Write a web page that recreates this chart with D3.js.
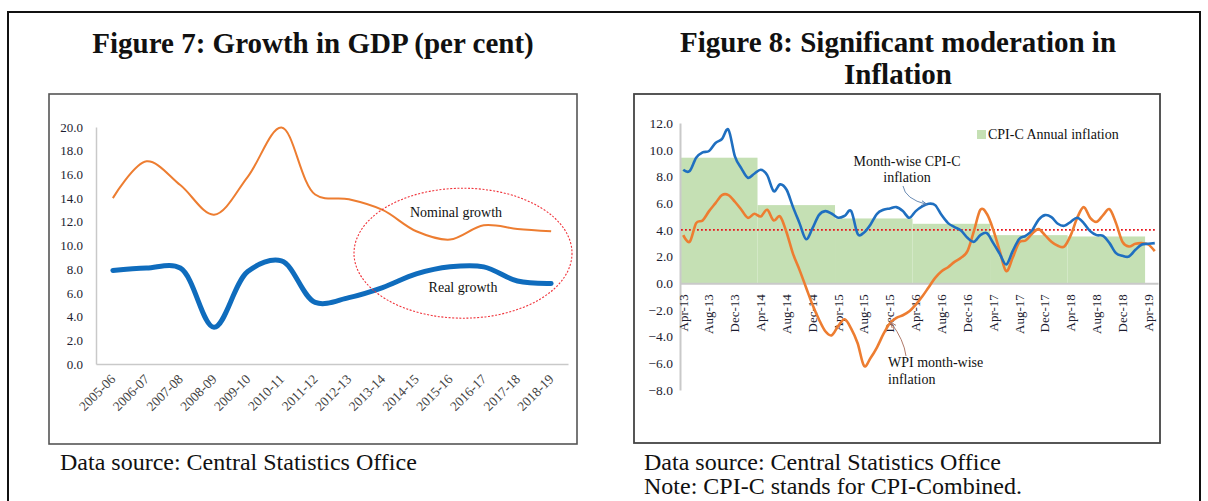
<!DOCTYPE html>
<html>
<head>
<meta charset="utf-8">
<script src="https://cdn.jsdelivr.net/npm/d3@7"></script>
<style>
  html, body { margin: 0; padding: 0; background: #fff; }
  svg { display: block; }
  text { font-family: "Liberation Serif", "Times New Roman", serif; }
</style>
</head>
<body>
<svg id="chart" width="1208" height="501"></svg>
<script>
// ---------- Figure 7 data ----------
const gdpYears = ["2005-06","2006-07","2007-08","2008-09","2009-10","2010-11","2011-12",
  "2012-13","2013-14","2014-15","2015-16","2016-17","2017-18","2018-19"];
const nominalGrowth = [14.0, 17.1, 15.1, 12.6, 15.8, 19.95, 14.3, 13.9, 13.0, 11.2, 10.5, 11.7, 11.4, 11.2];
const realGrowth = [7.9, 8.1, 8.1, 3.1, 7.8, 8.7, 5.2, 5.6, 6.45, 7.6, 8.2, 8.2, 7.0, 6.8];
const gdpTicks = [0, 2, 4, 6, 8, 10, 12, 14, 16, 18, 20];

// ---------- Figure 8 data ----------
const months = [
  "Apr-13","May-13","Jun-13","Jul-13","Aug-13","Sep-13","Oct-13","Nov-13","Dec-13","Jan-14","Feb-14","Mar-14",
  "Apr-14","May-14","Jun-14","Jul-14","Aug-14","Sep-14","Oct-14","Nov-14","Dec-14","Jan-15","Feb-15","Mar-15",
  "Apr-15","May-15","Jun-15","Jul-15","Aug-15","Sep-15","Oct-15","Nov-15","Dec-15","Jan-16","Feb-16","Mar-16",
  "Apr-16","May-16","Jun-16","Jul-16","Aug-16","Sep-16","Oct-16","Nov-16","Dec-16","Jan-17","Feb-17","Mar-17",
  "Apr-17","May-17","Jun-17","Jul-17","Aug-17","Sep-17","Oct-17","Nov-17","Dec-17","Jan-18","Feb-18","Mar-18",
  "Apr-18","May-18","Jun-18","Jul-18","Aug-18","Sep-18","Oct-18","Nov-18","Dec-18","Jan-19","Feb-19","Mar-19",
  "Apr-19","May-19"];
const monthTickLabels = ["Apr-13","Aug-13","Dec-13","Apr-14","Aug-14","Dec-14","Apr-15","Aug-15","Dec-15",
  "Apr-16","Aug-16","Dec-16","Apr-17","Aug-17","Dec-17","Apr-18","Aug-18","Dec-18","Apr-19"];
const cpiMonthly = [
  8.5, 8.4, 9.4, 9.8, 9.9, 10.5, 10.8, 11.5, 9.5, 8.6, 7.9, 8.2,
  8.5, 8.1, 6.9, 7.4, 7.0, 5.7, 4.5, 3.3, 4.1, 5.1, 5.4, 5.2,
  4.9, 5.05, 5.4, 3.7, 3.8, 4.4, 5.2, 5.5, 5.6, 5.7, 5.4, 4.9,
  5.4, 5.75, 5.95, 5.85, 5.1, 4.5, 4.2, 3.95, 3.4, 3.1, 3.6, 3.75,
  3.0, 2.2, 1.4, 2.4, 3.3, 3.55, 3.95, 4.75, 5.1, 4.95, 4.45, 4.3,
  4.6, 4.9, 4.5, 3.9, 3.6, 3.55, 3.0, 2.25, 2.05, 2.0, 2.5, 2.9,
  2.95, 3.0];
const wpiMonthly = [
  3.6, 3.1, 4.5, 4.7, 5.4, 6.0, 6.6, 6.6, 6.1, 5.5, 4.9, 5.2,
  5.0, 5.5, 4.7, 5.0, 3.8, 2.2, 1.0, -0.3, -1.6, -2.7, -3.6, -3.9,
  -3.2, -2.7, -3.4, -4.5, -6.2, -5.6, -4.8, -3.8, -3.0, -2.6, -2.4, -2.1,
  -1.6, -1.0, -0.3, 0.4, 0.9, 1.2, 1.6, 1.9, 2.4, 3.9, 5.5, 5.2,
  4.0, 2.4, 0.9, 1.9, 3.05, 3.2, 3.7, 4.05, 3.6, 3.1, 2.8, 2.75,
  3.6, 4.9, 5.7, 4.9, 4.6, 5.1, 5.55, 4.5, 3.1, 2.75, 2.95, 3.0,
  2.9, 2.4];
const fiscalYears = ["2013-14","2014-15","2015-16","2016-17","2017-18","2018-19"];
const fyStartMonth = ["Apr-13","Apr-14","Apr-15","Apr-16","Apr-17","Apr-18"];
const fyEndMonth = ["Mar-14","Mar-15","Mar-16","Mar-17","Mar-18","Mar-19"];
const cpiAnnual = [9.4, 5.85, 4.85, 4.45, 3.6, 3.5];
const inflationTicks = [-8, -6, -4, -2, 0, 2, 4, 6, 8, 10, 12];
const inflationTarget = 4.0;

// ---------- common ----------
const svg = d3.select("#chart");
svg.append("rect").attr("width", 1208).attr("height", 501).attr("fill", "#fff");
// outer frame
svg.append("path").attr("d", "M8,520 V12 H1200 V520")
  .attr("fill", "none").attr("stroke", "#111").attr("stroke-width", 2);

const tickColor = "#1c1c30";
const axisGray = "#c9c9c9";

// ================= Figure 7 =================
svg.append("text").attr("x", 313).attr("y", 53).attr("text-anchor", "middle")
  .attr("font-size", 29).attr("font-weight", "bold").attr("fill", "#111")
  .text("Figure 7: Growth in GDP (per cent)");
svg.append("rect").attr("x", 49).attr("y", 94).attr("width", 528).attr("height", 350)
  .attr("fill", "none").attr("stroke", "#555").attr("stroke-width", 1.6);

const x7 = d3.scalePoint().domain(gdpYears).range([96, 568]).padding(0.5);
const y7 = d3.scaleLinear().domain([0, 20]).range([364, 127]);

const gy7 = svg.append("g").attr("transform", "translate(96,0)")
  .call(d3.axisLeft(y7).tickValues(gdpTicks).tickFormat(d3.format(".1f")).tickSize(0).tickSizeOuter(0).tickPadding(13));
gy7.select(".domain").attr("stroke", axisGray).attr("stroke-width", 1.5);
gy7.selectAll("text").attr("font-size", 13).attr("fill", tickColor)
  .style("font-family", '"Liberation Serif", serif');

const gx7 = svg.append("g").attr("transform", "translate(0,364)")
  .call(d3.axisBottom(x7).tickSize(0).tickSizeOuter(0));
gx7.select(".domain").attr("stroke", axisGray).attr("stroke-width", 1.5);
gx7.selectAll("text").attr("y", 0).attr("dy", null).attr("x", 0)
  .attr("transform", "translate(3,16) rotate(-45)").attr("text-anchor", "end")
  .attr("font-size", 13.5).attr("fill", "#444").style("font-family", '"Liberation Serif", serif');

const line7 = (vals) => d3.line()
  .x((d, i) => x7(gdpYears[i])).y(d => y7(d))
  .curve(d3.curveCatmullRom.alpha(0.5))(vals);
svg.append("path").attr("d", line7(nominalGrowth)).attr("fill", "none")
  .attr("stroke", "#ED7D31").attr("stroke-width", 2);
svg.append("path").attr("d", line7(realGrowth)).attr("fill", "none")
  .attr("stroke", "#0F6CBD").attr("stroke-width", 5).attr("stroke-linecap", "round");

// highlight ellipse
svg.append("ellipse")
  .attr("cx", x7("2015-16") + 13).attr("cy", y7(9.35))
  .attr("rx", 109).attr("ry", 65)
  .attr("fill", "none").attr("stroke", "#f0333a").attr("stroke-width", 1.1)
  .attr("stroke-dasharray", "2,1.6");
svg.append("text").attr("x", x7("2015-16") + 6).attr("y", y7(12.4)).attr("text-anchor", "middle")
  .attr("font-size", 14).attr("fill", "#111").text("Nominal growth");
svg.append("text").attr("x", x7("2015-16") + 13).attr("y", y7(6.1)).attr("text-anchor", "middle")
  .attr("font-size", 14).attr("fill", "#111").text("Real growth");

svg.append("text").attr("x", 60).attr("y", 470).attr("font-size", 24).attr("fill", "#111")
  .text("Data source: Central Statistics Office");

// ================= Figure 8 =================
svg.append("text").attr("x", 898).attr("y", 52).attr("text-anchor", "middle")
  .attr("font-size", 29).attr("font-weight", "bold").attr("fill", "#111")
  .text("Figure 8: Significant moderation in");
svg.append("text").attr("x", 898).attr("y", 84).attr("text-anchor", "middle")
  .attr("font-size", 29).attr("font-weight", "bold").attr("fill", "#111")
  .text("Inflation");
svg.append("rect").attr("x", 634).attr("y", 94).attr("width", 526).attr("height", 349)
  .attr("fill", "none").attr("stroke", "#444").attr("stroke-width", 1.8);

const x8 = d3.scaleBand().domain(months).range([680, 1158]).padding(0);
const bw = x8.bandwidth();
const xc = (m) => x8(m) + bw / 2;
const y8 = d3.scaleLinear().domain([-8, 12]).range([390, 123]);

// annual CPI-C bars
svg.append("g").selectAll("rect").data(fiscalYears).join("rect")
  .attr("x", (d, i) => x8(fyStartMonth[i]))
  .attr("width", (d, i) => x8(fyEndMonth[i]) + bw - x8(fyStartMonth[i]))
  .attr("y", (d, i) => y8(cpiAnnual[i]))
  .attr("height", (d, i) => y8(0) - y8(cpiAnnual[i]))
  .attr("fill", "#c5e0b4");

// axes
const gy8 = svg.append("g").attr("transform", "translate(680,0)")
  .call(d3.axisLeft(y8).tickValues(inflationTicks).tickFormat(d3.format(".1f")).tickSize(0).tickSizeOuter(0).tickPadding(7));
gy8.select(".domain").attr("stroke", axisGray).attr("stroke-width", 2);
gy8.selectAll("text").attr("font-size", 13.5).attr("fill", tickColor)
  .style("font-family", '"Liberation Serif", serif');

const gx8 = svg.append("g").attr("transform", `translate(0,${y8(0)})`)
  .call(d3.axisBottom(x8).tickValues(monthTickLabels).tickSize(0).tickSizeOuter(0));
gx8.select(".domain").attr("stroke", axisGray).attr("stroke-width", 2);
gx8.selectAll("text").attr("y", 0).attr("dy", null).attr("x", 0)
  .attr("transform", "translate(4.4,11) rotate(-90)").attr("text-anchor", "end")
  .attr("font-size", 13).attr("fill", tickColor).style("font-family", '"Liberation Serif", serif');

// target line
svg.append("line").attr("x1", 681).attr("x2", 1155)
  .attr("y1", y8(inflationTarget)).attr("y2", y8(inflationTarget))
  .attr("stroke", "#e8141c").attr("stroke-width", 1.8).attr("stroke-dasharray", "1.8,2.2");

const line8 = d3.line().x((d, i) => xc(months[i])).y(d => y8(d)).curve(d3.curveCardinal.tension(0));
svg.append("path").attr("d", line8(wpiMonthly)).attr("fill", "none")
  .attr("stroke", "#ED7D31").attr("stroke-width", 2.6).attr("stroke-linejoin", "round");
svg.append("path").attr("d", line8(cpiMonthly)).attr("fill", "none")
  .attr("stroke", "#1F6FC0").attr("stroke-width", 2.6).attr("stroke-linejoin", "round");

// legend
svg.append("rect").attr("x", 977).attr("y", 130).attr("width", 9).attr("height", 9).attr("fill", "#c5e0b4");
svg.append("text").attr("x", 988).attr("y", 139).attr("font-size", 14).attr("fill", "#111")
  .text("CPI-C Annual inflation");

// annotations
const defs = svg.append("defs");
defs.append("marker").attr("id", "arrB").attr("viewBox", "0 0 10 10").attr("refX", 9).attr("refY", 5)
  .attr("markerWidth", 6).attr("markerHeight", 6).attr("orient", "auto")
  .append("path").attr("d", "M0,1 L10,5 L0,9").attr("fill", "none").attr("stroke", "#4a78b0").attr("stroke-width", 1.5);
defs.append("marker").attr("id", "arrO").attr("viewBox", "0 0 10 10").attr("refX", 9).attr("refY", 5)
  .attr("markerWidth", 6).attr("markerHeight", 6).attr("orient", "auto")
  .append("path").attr("d", "M0,1 L10,5 L0,9").attr("fill", "none").attr("stroke", "#b07a6a").attr("stroke-width", 1.5);

svg.append("text").attr("x", 907).attr("y", 166).attr("text-anchor", "middle")
  .attr("font-size", 14).attr("fill", "#111").text("Month-wise CPI-C");
svg.append("text").attr("x", 907).attr("y", 182).attr("text-anchor", "middle")
  .attr("font-size", 14).attr("fill", "#111").text("inflation");
svg.append("path").attr("d", `M903,186 Q905,199 ${xc("Jun-16") - 2},${y8(6.05) + 2}`)
  .attr("fill", "none").attr("stroke", "#6c8db5").attr("stroke-width", 1).attr("marker-end", "url(#arrB)");

svg.append("text").attr("x", 888).attr("y", 367).attr("font-size", 14).attr("fill", "#111").text("WPI month-wise");
svg.append("text").attr("x", 888).attr("y", 384).attr("font-size", 14).attr("fill", "#111").text("inflation");
svg.append("path").attr("d", `M906,356 Q904,340 ${xc("Dec-15") + 1},${y8(-3.1) - 2}`)
  .attr("fill", "none").attr("stroke", "#b07a6a").attr("stroke-width", 1).attr("marker-end", "url(#arrO)");

svg.append("text").attr("x", 644).attr("y", 470).attr("font-size", 24).attr("fill", "#111")
  .text("Data source: Central Statistics Office");
svg.append("text").attr("x", 644).attr("y", 494).attr("font-size", 24).attr("fill", "#111")
  .text("Note: CPI-C stands for CPI-Combined.");
</script>
</body>
</html>
